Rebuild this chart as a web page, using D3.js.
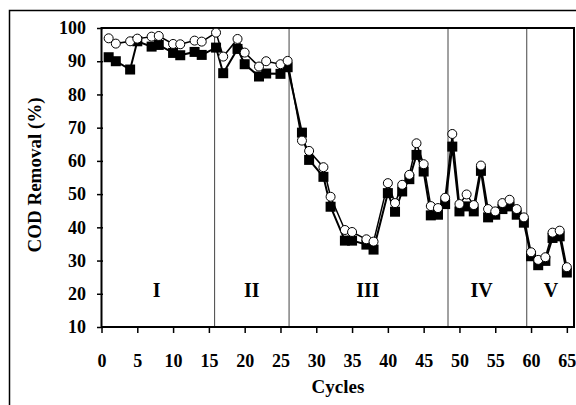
<!DOCTYPE html>
<html>
<head>
<meta charset="utf-8">
<script src="https://cdn.jsdelivr.net/npm/d3@7/dist/d3.min.js"></script>
<style>
    body { margin: 0; background: #fff; }
    svg { display: block; }
    svg text { font-family: 'Liberation Serif', 'Times New Roman', 'DejaVu Serif', serif; font-weight: bold; }
</style>
</head>
<body>
<div id="chart"></div>
<script>
// Cycle numbers that have a measurement
const cycles = [1, 2, 4, 5, 7, 8, 10, 11, 13, 14, 16, 17, 19, 20, 22, 23, 25, 26,
    28, 29, 31, 32, 34, 35, 37, 38, 40, 41, 42, 43, 44, 45, 46, 47, 48, 49, 50,
    51, 52, 53, 54, 55, 56, 57, 58, 59, 60, 61, 62, 63, 64, 65];

// Open circles
const removalOpen = [96.9, 95.3, 96, 96.8, 97.4, 97.6, 95.2, 95.1, 96.2, 95.9, 98.6, 91.4, 96.7, 92.6, 88.4, 90, 89.1, 90.1,
    66.1, 63, 58.1, 49.2, 39.2, 38.6, 36.4, 35.7, 53.3, 47.3, 52.8, 55.8, 65.3, 59, 46.4, 45.8, 48.9, 68.1, 47,
    49.9, 46.7, 58.6, 45.5, 44.8, 47.3, 48.3, 45.5, 43, 32.5, 30.2, 31, 38.4, 39, 28];

// Filled squares
const removalFilled = [91.2, 90, 87.5, 96, 94.4, 94.9, 92.5, 91.8, 92.8, 91.9, 94.1, 86.4, 93.7, 89.1, 85.4, 86.3, 86.2, 88.2,
    68.5, 60.3, 55.2, 46.2, 36, 36, 34.8, 33.3, 50.3, 44.7, 50.8, 54.5, 61.8, 56.8, 43.6, 43.8, 47, 64.3, 44.8,
    46.3, 44.8, 57, 43, 43.8, 45.5, 46.3, 43.8, 41.4, 31.3, 28.6, 29.9, 36.8, 37.3, 26.4];

// Phase boundaries and labels
const phaseBreaks = [15.8, 26.2, 48.4, 59.4];
const phaseLabels = ['I', 'II', 'III', 'IV', 'V'];
const phaseLabelX = [7.7, 21, 37.2, 53.1, 62.8];
const phaseLabelY = 21;

const xTicks = d3.range(0, 66, 5);
const yTicks = d3.range(10, 101, 10);

const width = 576;
const height = 405;
const margin = { top: 28, right: 2, bottom: 78, left: 101 };

const svg = d3.select('#chart')
    .append('svg')
    .attr('width', width)
    .attr('height', height);

// Outer frame (only top and left edges fall inside the picture)
svg.append('rect')
    .attr('x', 9.5)
    .attr('y', 10.5)
    .attr('width', 600)
    .attr('height', 420)
    .attr('fill', '#fff')
    .attr('stroke', '#000')
    .attr('stroke-width', 1.5);

const x = d3.scaleLinear()
    .domain([0, 66])
    .range([margin.left + 0.5, width - margin.right]);

const y = d3.scaleLinear()
    .domain([10, 100])
    .range([height - margin.bottom, margin.top]);

const plotW = x.range()[1] - x.range()[0];
const plotH = y.range()[0] - y.range()[1];

// Phase separators
svg.append('g')
    .selectAll('line')
    .data(phaseBreaks)
    .join('line')
    .attr('x1', d => x(d))
    .attr('x2', d => x(d))
    .attr('y1', y(100))
    .attr('y2', y(10))
    .attr('stroke', '#444')
    .attr('stroke-width', 1);

// Phase labels
svg.append('g')
    .selectAll('text')
    .data(phaseLabels)
    .join('text')
    .attr('x', (d, i) => x(phaseLabelX[i]))
    .attr('y', y(phaseLabelY))
    .attr('dy', '0.35em')
    .attr('text-anchor', 'middle')
    .style('font-size', '20px')
    .text(d => d);

// Axes
const xAxis = svg.append('g')
    .attr('transform', `translate(0,${y(10)})`)
    .call(d3.axisBottom(x).tickValues(xTicks).tickSize(6).tickSizeOuter(0).tickPadding(21));

const yAxis = svg.append('g')
    .attr('transform', `translate(${x(0) - 0.5},0)`)
    .call(d3.axisLeft(y).tickValues(yTicks).tickSize(4).tickSizeOuter(0).tickPadding(11));

[xAxis, yAxis].forEach(ax => {
    ax.attr('font-family', null);
    ax.select('.domain').remove();
    ax.selectAll('.tick line').attr('stroke', '#000').attr('stroke-width', 1.5);
    ax.selectAll('.tick text')
        .attr('fill', '#000')
        .style('font-size', '18px');
});
yAxis.selectAll('.tick line').attr('x2', 2).attr('x1', -4);

// Plot frame
svg.append('rect')
    .attr('x', x.range()[0])
    .attr('y', y.range()[1])
    .attr('width', plotW)
    .attr('height', plotH)
    .attr('fill', 'none')
    .attr('stroke', '#000')
    .attr('stroke-width', 2);

// Axis titles
svg.append('text')
    .attr('x', 338)
    .attr('y', 393)
    .attr('text-anchor', 'middle')
    .style('font-size', '19px')
    .text('Cycles');

svg.append('text')
    .attr('transform', 'translate(41,175) rotate(-90)')
    .attr('text-anchor', 'middle')
    .style('font-size', '19px')
    .text('COD Removal (%)');

const line = d3.line()
    .x(d => x(d[0]))
    .y(d => y(d[1]));

const filledPts = cycles.map((c, i) => [c, removalFilled[i]]);
const openPts = cycles.map((c, i) => [c, removalOpen[i]]);

// Filled square series
svg.append('path')
    .datum(filledPts)
    .attr('d', line)
    .attr('fill', 'none')
    .attr('stroke', '#000')
    .attr('stroke-width', 2);

const sq = 10;
svg.append('g')
    .selectAll('rect')
    .data(filledPts)
    .join('rect')
    .attr('x', d => x(d[0]) - sq / 2)
    .attr('y', d => y(d[1]) - sq / 2)
    .attr('width', sq)
    .attr('height', sq)
    .attr('fill', '#000');

// Open circle series
svg.append('path')
    .datum(openPts)
    .attr('d', line)
    .attr('fill', 'none')
    .attr('stroke', '#000')
    .attr('stroke-width', 1.5);

svg.append('g')
    .selectAll('circle')
    .data(openPts)
    .join('circle')
    .attr('cx', d => x(d[0]))
    .attr('cy', d => y(d[1]))
    .attr('r', 4.5)
    .attr('fill', '#fff')
    .attr('stroke', '#000')
    .attr('stroke-width', 1);
</script>
</body>
</html>
